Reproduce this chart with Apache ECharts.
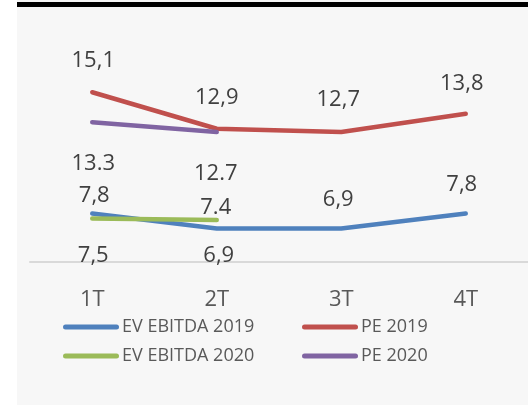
<!DOCTYPE html>
<html>
<head>
<meta charset="utf-8">
<script src="https://cdn.jsdelivr.net/npm/echarts@6/dist/echarts.min.js"></script>
<style>
  html, body { margin: 0; padding: 0; background: #fff; }
  #main { width: 528px; height: 405px; }
</style>
</head>
<body>
<div id="main"></div>
<script>
// data
var quarters = ['1T', '2T', '3T', '4T'];
var evEbitda2019 = [7.8, 6.9, 6.9, 7.8];
var pe2019 = [15.1, 12.9, 12.7, 13.8];
var evEbitda2020 = [7.5, 7.4];
var pe2020 = [13.3, 12.7];

// label texts as printed (the source mixes , and .)
var evEbitda2019Text = ['7,8', '6,9', '6,9', '7,8'];
var pe2019Text = ['15,1', '12,9', '12,7', '13,8'];
var evEbitda2020Text = ['7,5', '7.4'];
var pe2020Text = ['13.3', '12.7'];

// where each label sits relative to its point (px)
var evEbitda2019Off = [[2, -18], [2, 27], [-3, -29], [-4, -29]];
var pe2019Off = [[1, -32], [0, -31], [-3, -32], [-4, -30]];
var evEbitda2020Off = [[1, 37], [-1, -12]];
var pe2020Off = [[1, 42], [-1, 42]];

function points(values, texts, offs) {
  return values.map(function (v, i) {
    return {
      value: v,
      label: { formatter: texts[i], offset: offs[i] }
    };
  });
}

function lineSeries(name, color, values, texts, offs) {
  return {
    name: name,
    type: 'line',
    data: points(values, texts, offs),
    symbol: 'circle',
    symbolSize: 1,
    itemStyle: { color: color },
    lineStyle: { color: color, width: 4.5, cap: 'round', join: 'round' },
    label: {
      show: true,
      position: 'inside',
      color: '#404040',
      fontSize: 22,
      fontFamily: 'Open Sans'
    },
    emphasis: { disabled: true }
  };
}

var capsule = 'path://M2.5,0H53.5A2.5,2.5,0,0,1,53.5,5H2.5A2.5,2.5,0,0,1,2.5,0Z';
var legendBase = {
  orient: 'vertical',
  top: 317,
  padding: 0,
  itemWidth: 56,
  itemHeight: 5,
  itemGap: 9,
  icon: capsule,
  selectedMode: false,
  textStyle: { color: '#595959', fontSize: 18, fontFamily: 'Open Sans', lineHeight: 20, padding: [0, 0, 0, -2] }
};

var option = {
  animation: false,
  graphic: [
    { type: 'rect', z: -10, shape: { x: 17, y: 0, width: 511, height: 405 }, style: { fill: '#f7f7f7' } },
    { type: 'rect', z: -9, shape: { x: 17, y: 2, width: 511, height: 5 }, style: { fill: '#000' } }
  ],
  grid: { left: 30, top: 10.9, width: 506, height: 250.7 },
  legend: [
    Object.assign({}, legendBase, { left: 63, data: ['EV EBITDA 2019', 'EV EBITDA 2020'] }),
    Object.assign({}, legendBase, { left: 302, data: ['PE 2019', 'PE 2020'] })
  ],
  xAxis: {
    type: 'category',
    data: quarters,
    boundaryGap: true,
    axisLine: { lineStyle: { color: '#d9d9d9', width: 2 } },
    axisTick: { show: false },
    axisLabel: { color: '#595959', fontSize: 22, fontFamily: 'Open Sans', margin: 27 }
  },
  yAxis: {
    type: 'value',
    min: 4.9,
    max: 20,
    show: false,
    splitLine: { show: false }
  },
  series: [
    lineSeries('EV EBITDA 2019', '#4f81bd', evEbitda2019, evEbitda2019Text, evEbitda2019Off),
    lineSeries('PE 2019', '#c0504d', pe2019, pe2019Text, pe2019Off),
    lineSeries('EV EBITDA 2020', '#9bbb59', evEbitda2020, evEbitda2020Text, evEbitda2020Off),
    lineSeries('PE 2020', '#8064a2', pe2020, pe2020Text, pe2020Off)
  ]
};

var chartDom = document.getElementById('main');
var myChart = echarts.init(chartDom);
myChart.setOption(option);
</script>
</body>
</html>
